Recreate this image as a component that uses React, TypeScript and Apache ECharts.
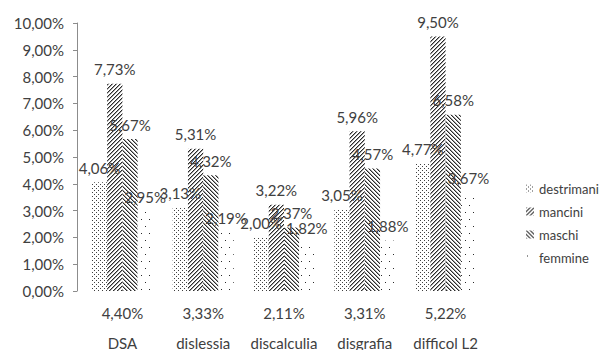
import React, { useEffect, useRef } from "react";
import * as echarts from "echarts";

const categories = ["DSA", "dislessia", "discalculia", "disgrafia", "difficol L2"];
const totals = ["4,40%", "3,33%", "2,11%", "3,31%", "5,22%"];
const destrimani = [4.06, 3.13, 2.0, 3.05, 4.77];
const mancini = [7.73, 5.31, 3.22, 5.96, 9.5];
const maschi = [5.67, 4.32, 2.37, 4.57, 6.58];
const femmine = [2.95, 2.19, 1.82, 1.88, 3.67];
const seriesNames = ["destrimani", "mancini", "maschi", "femmine"];

const FONT = "Lato, 'Open Sans', sans-serif";
const TEXT = "#404040";

function makePattern(w: number, h: number, pts: Array<[number, number, string]>) {
  const c = document.createElement("canvas");
  c.width = w;
  c.height = h;
  const ctx = c.getContext("2d")!;
  ctx.fillStyle = "#ffffff";
  ctx.fillRect(0, 0, w, h);
  for (const [x, y, col] of pts) {
    ctx.fillStyle = col;
    ctx.fillRect(x, y, 1, 1);
  }
  return { image: c, repeat: "repeat", imageWidth: w, imageHeight: h } as any;
}

function fmt(v: number) {
  return v.toFixed(2).replace(".", ",") + "%";
}

export default function App() {
  const ref = useRef<HTMLDivElement>(null);
  useEffect(() => {
    if (!ref.current) return;
    const chart = echarts.init(ref.current, undefined, { renderer: "svg" });

    const dark = "#2a2a2a";
    const mid = "#a0a0a0";
    const pDots = makePattern(4, 4, [
      [0, 0, "#404040"],
      [2, 2, "#404040"],
    ]);
    const slashPts: Array<[number, number, string]> = [];
    const backPts: Array<[number, number, string]> = [];
    for (let i = 0; i < 4; i++) {
      slashPts.push([3 - i, i, dark]);
      slashPts.push([(4 - i) % 4, i, mid]);
      backPts.push([i, i, dark]);
      backPts.push([(i + 1) % 4, i, mid]);
    }
    const pSlash = makePattern(4, 4, slashPts);
    const pBack = makePattern(4, 4, backPts);
    const pSparse = makePattern(8, 14, [
      [1, 2, dark],
      [5, 9, dark],
    ]);
    const fills = [pDots, pSlash, pBack, pSparse];
    const datas = [destrimani, mancini, maschi, femmine];

    chart.setOption({
      animation: false,
      backgroundColor: "#ffffff",
      textStyle: { fontFamily: FONT },
      grid: { left: 82, right: 121, top: 23, bottom: 63, containLabel: false },
      legend: {
        orient: "vertical",
        left: 521,
        top: 177,
        itemWidth: 8,
        itemHeight: 8,
        itemGap: 10,
        icon: "rect",
        textStyle: { fontFamily: FONT, fontSize: 13, color: TEXT },
        data: seriesNames,
      },
      xAxis: {
        type: "category",
        data: categories,
        axisLine: { show: false },
        axisTick: { show: false },
        axisLabel: {
          interval: 0,
          margin: 7,
          lineHeight: 30,
          fontFamily: FONT,
          fontSize: 15,
          color: TEXT,
          formatter: (v: string, i: number) => totals[i] + "\n" + v,
        },
      },
      yAxis: {
        type: "value",
        min: 0,
        max: 10,
        interval: 1,
        offset: 5,
        axisLine: { show: true, lineStyle: { color: "#8c8c8c", width: 1 } },
        axisTick: { show: true, inside: false, length: 4, lineStyle: { color: "#8c8c8c" } },
        splitLine: { show: false },
        axisLabel: {
          margin: 13,
          fontFamily: FONT,
          fontSize: 15,
          color: TEXT,
          formatter: (v: number) => fmt(v),
        },
      },
      series: seriesNames.map((name, k) => ({
        name,
        type: "bar",
        data: datas[k],
        barGap: "0%",
        barCategoryGap: "24.5%",
        itemStyle: { color: fills[k], borderWidth: 0 },
        label: {
          show: true,
          position: "top",
          distance: 7,
          fontFamily: FONT,
          fontSize: 15,
          color: TEXT,
          formatter: (p: any) => fmt(p.value),
        },
      })),
    });
    return () => chart.dispose();
  }, []);
  return <div ref={ref} style={{ width: 607, height: 358, margin: -8 }} />;
}
